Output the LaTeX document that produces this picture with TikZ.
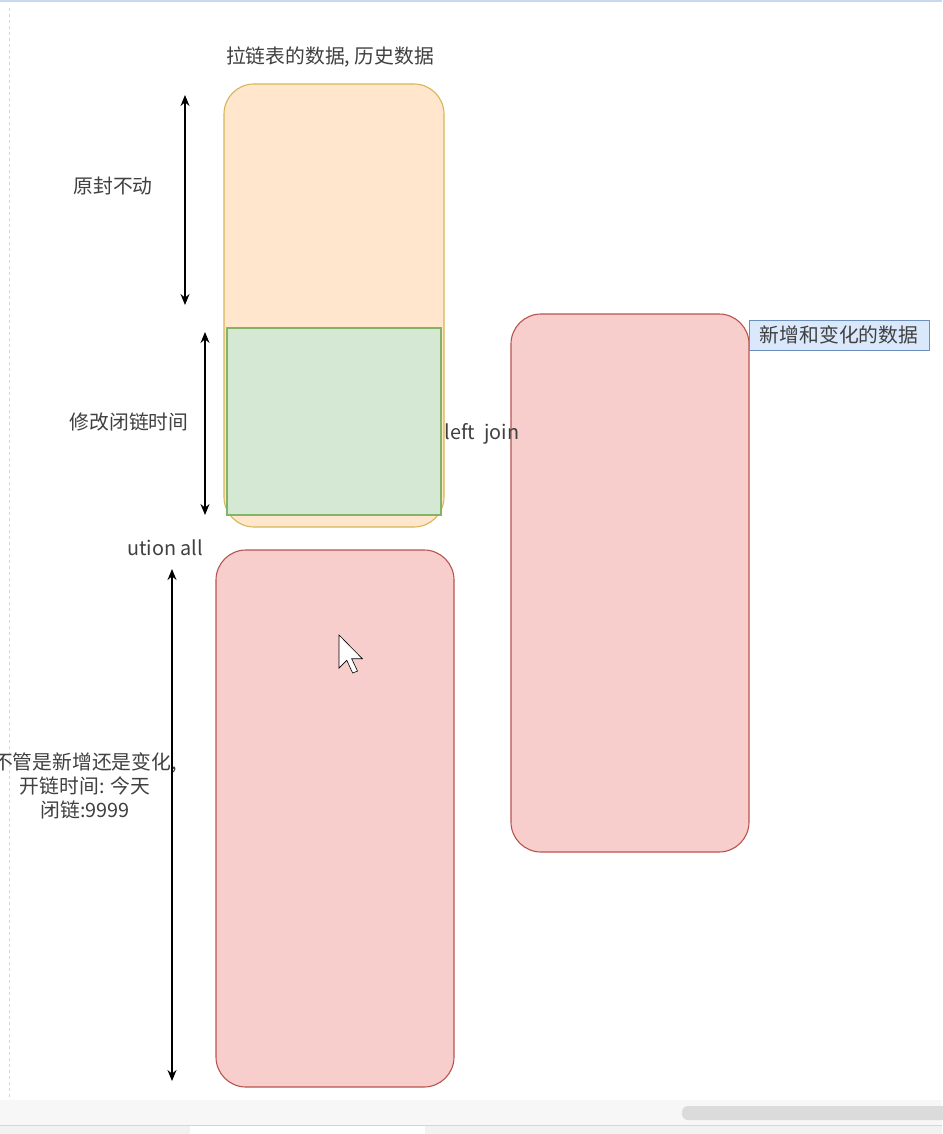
\documentclass[tikz,border=0pt]{standalone}
\usepackage{fontspec}
\setmainfont{Noto Sans CJK SC}
\usetikzlibrary{arrows.meta}
\definecolor{txt}{HTML}{404040}
\definecolor{orfill}{HTML}{FFE6CC}
\definecolor{ordraw}{HTML}{D6B656}
\definecolor{grfill}{HTML}{D5E8D4}
\definecolor{grdraw}{HTML}{82B366}
\definecolor{pkfill}{HTML}{F8CECC}
\definecolor{pkdraw}{HTML}{B85450}
\definecolor{blfill}{HTML}{DAE8FC}
\definecolor{bldraw}{HTML}{6C8EBF}
\definecolor{chrome}{HTML}{C9D8EE}
\tikzset{
  lbl/.style={text=txt, font=\fontsize{19.8}{23}\selectfont, inner sep=0pt},
  box/.style={rounded corners=30pt, line width=1.1pt, inner sep=0pt},
  orbox/.style={box, fill=orfill, draw=ordraw},
  pkbox/.style={box, fill=pkfill, draw=pkdraw},
  grbox/.style={fill=grfill, draw=grdraw, line width=1.1pt, inner sep=0pt},
  dimarrow/.style={{Stealth[length=11pt,width=9pt]}-{Stealth[length=11pt,width=9pt]}, line width=1.4pt, black},
}
\begin{document}
\begin{tikzpicture}[x=1pt,y=-1pt]
\useasboundingbox (0,0) rectangle (942,1134);
\fill[white] (0,0) rectangle (942,1134);
% window chrome
\draw[chrome, line width=2pt] (0,1.5) -- (942,1.5);
\draw[chrome, dashed, line width=1pt] (9,8) -- (9,1100);
\fill[black!3] (0,1100) rectangle (942,1125);
\fill[black!14, rounded corners=6pt] (682,1106) rectangle (950,1120);
\draw[chrome, line width=1pt] (0,1125) -- (942,1125);
\fill[black!5] (0,1126) rectangle (942,1134);
\fill[white] (190,1126) rectangle (425,1134);

% boxes
\node[orbox, minimum width=220pt, minimum height=443pt] (hist) at (334,305.5) {};
\node[grbox, minimum width=214pt, minimum height=187pt] (chg) at (334,421.5) {};
\node[pkbox, minimum width=238pt, minimum height=537pt] (newall) at (335,818.5) {};
\node[pkbox, minimum width=238pt, minimum height=538pt] (newchg) at (630,583) {};
\node[fill=blfill, draw=bldraw, line width=1pt, minimum width=180pt, minimum height=30pt, inner sep=0pt] (newlbl) at (839,335) {};
\node[lbl] at (newlbl) {新增和变化的数据};

% labels
\node[lbl] (title) at (330,57) {拉链表的数据, 历史数据};
\node[lbl] (keep) at (113,186) {原封不动};
\node[lbl] (modify) at (129,422) {修改闭链时间};
\node[lbl] (union) at (165,548) {ution all};
\node[lbl] (lj) at (482,434) {left\ \ join};
\node[lbl, align=center, font=\fontsize{19.8}{24}\selectfont] (desc) at (85,786) {不管是新增还是变化,\\开链时间: 今天\\闭链:9999};

% dimension arrows
\coordinate (a1) at (185,95);
\coordinate (a2) at (185,305);
\coordinate (b1) at (205,332);
\coordinate (b2) at (205,515);
\coordinate (c1) at (172,569);
\coordinate (c2) at (172,1081);
\draw[dimarrow] (a1) -- (a2);
\draw[dimarrow] (b1) -- (b2);
\draw[dimarrow] (c1) -- (c2);

% mouse cursor
\begin{scope}[shift={(339,635)}, scale=1.95]
\draw[fill=white, line width=0.6pt, line join=miter] (0,0) -- (0,17) -- (4,13) -- (7,19.5) -- (9.5,18.5) -- (6.5,12.2) -- (12,12.2) -- cycle;
\end{scope}
\end{tikzpicture}
\end{document}
